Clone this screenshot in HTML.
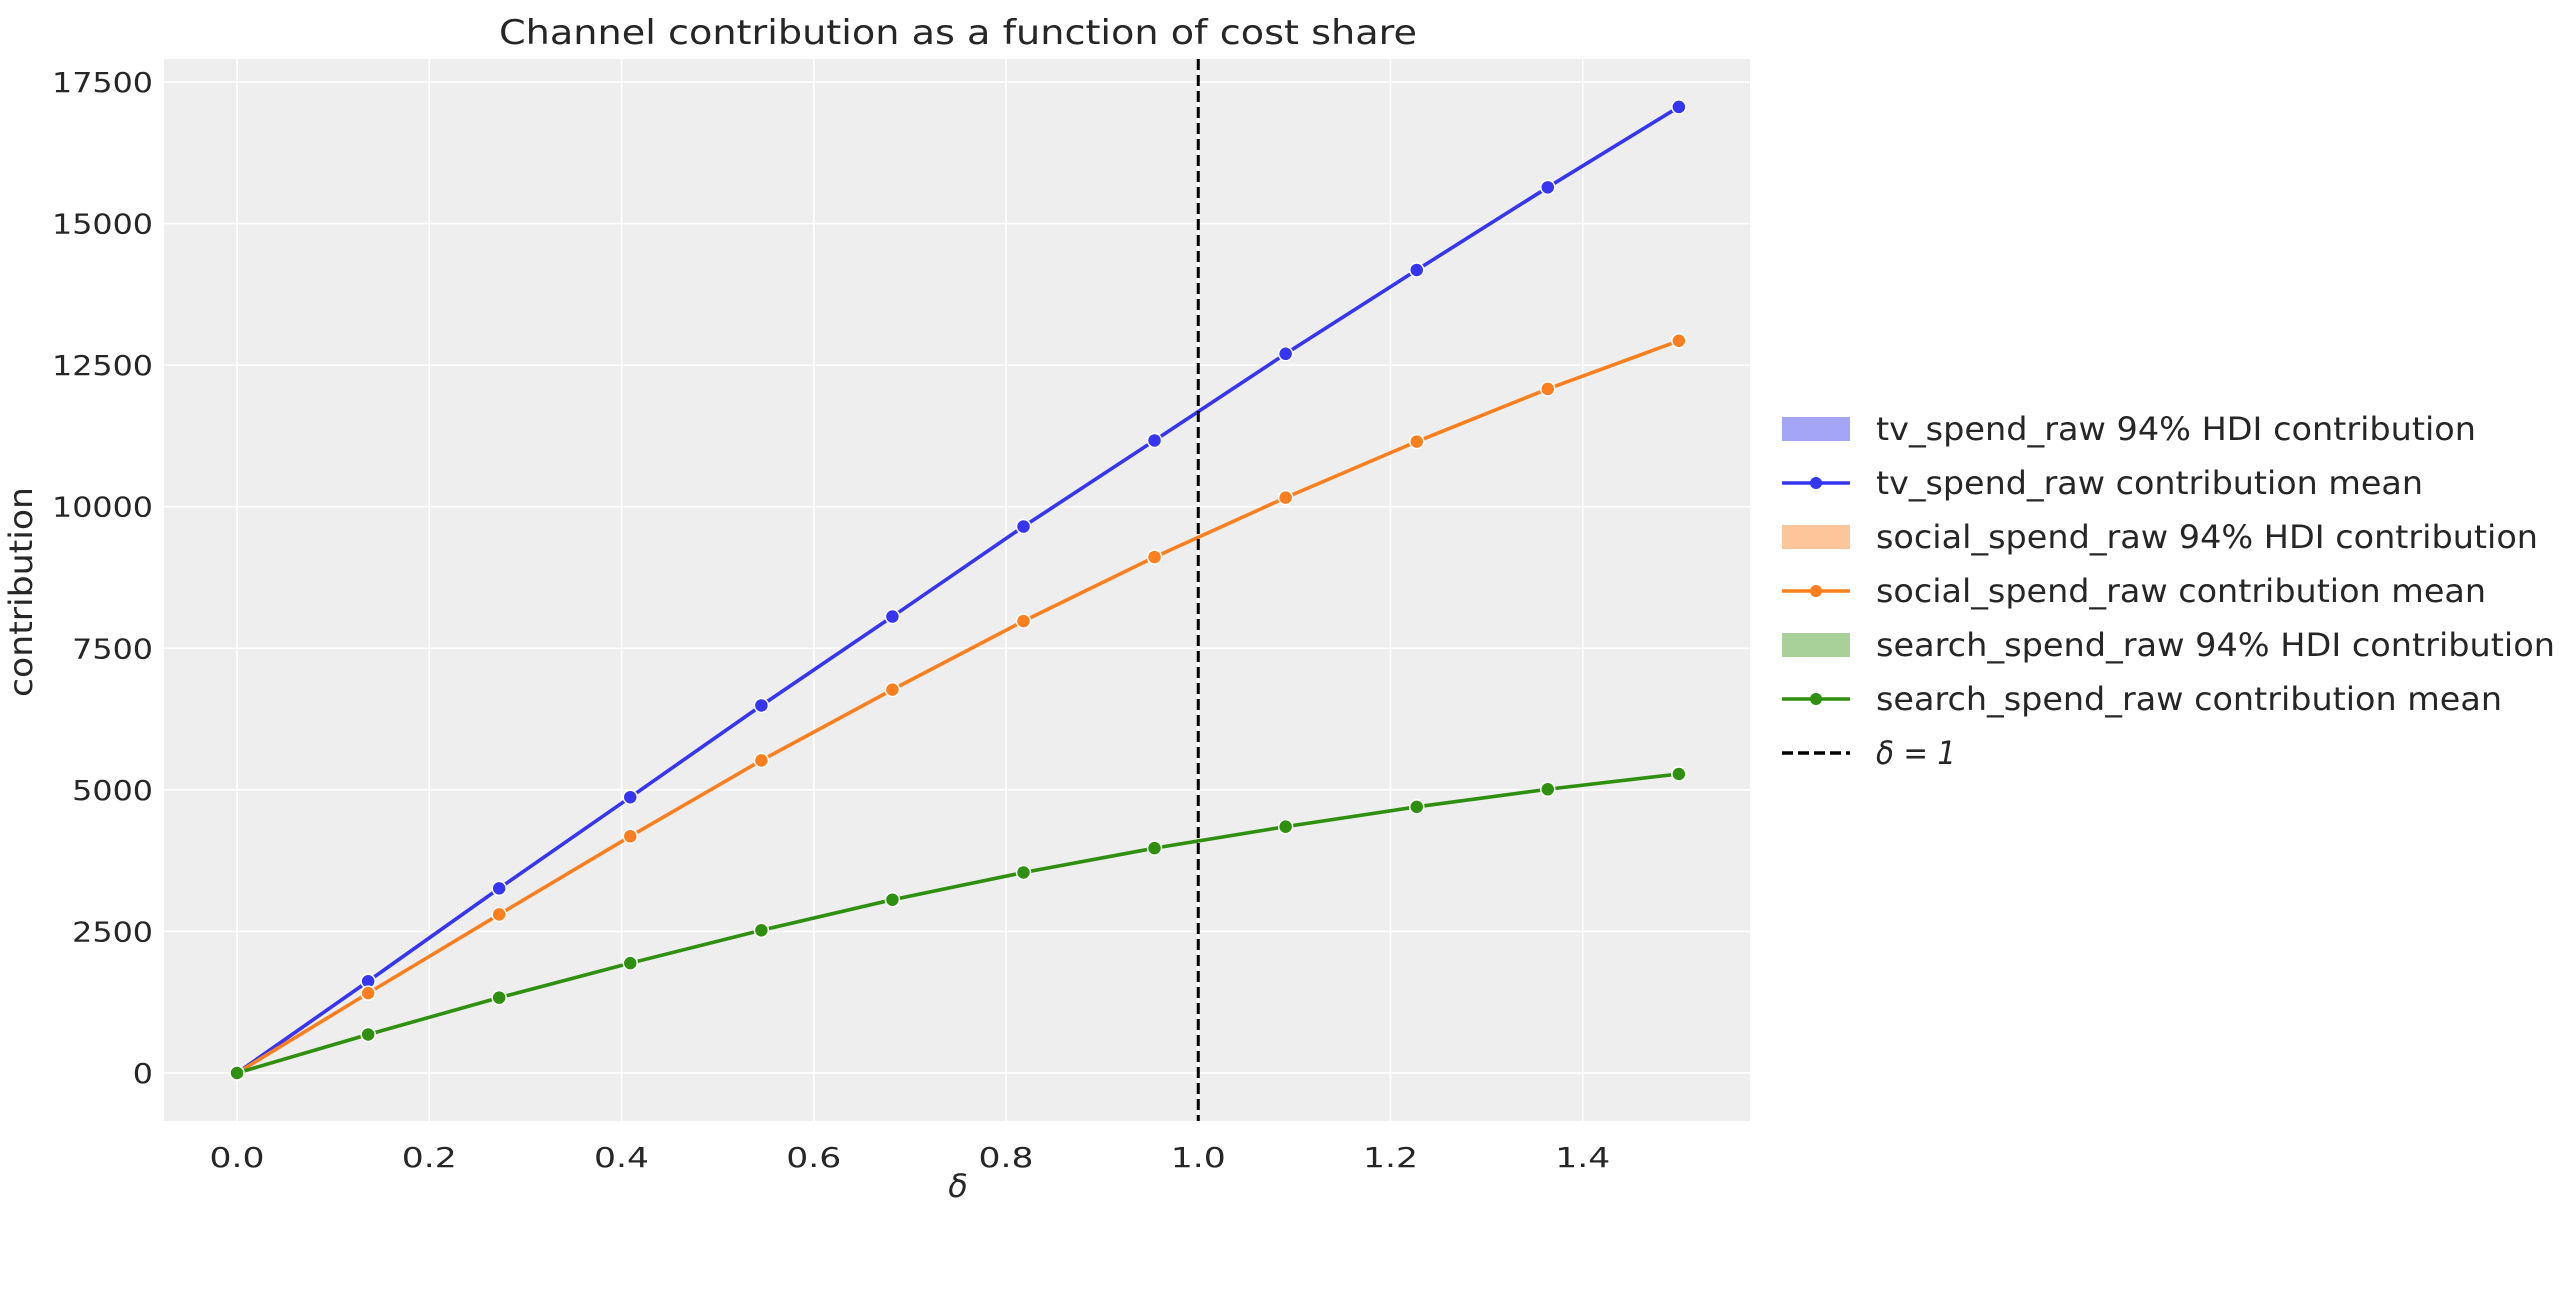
<!DOCTYPE html>
<html><head><meta charset="utf-8"><style>
html,body{margin:0;padding:0;background:#fff;}
svg{display:block;font-family:"DejaVu Sans","Liberation Sans",sans-serif;}
</style></head><body>
<svg id="chart" width="2576" height="1294" viewBox="0 0 2576 1294" xmlns="http://www.w3.org/2000/svg">
<rect x="0" y="0" width="2576" height="1294" fill="#ffffff"/>
<text x="958" y="44" font-size="34" text-anchor="middle" fill="#262626" textLength="918" lengthAdjust="spacingAndGlyphs">Channel contribution as a function of cost share</text>
<rect x="164" y="59" width="1586" height="1062" fill="#eeeeee"/>
<g id="grid"></g>
<g id="marks"></g>
<g id="ticks"></g>
<text transform="translate(32,592) rotate(-90)" font-size="32" text-anchor="middle" fill="#262626" textLength="210" lengthAdjust="spacingAndGlyphs">contribution</text>
<text x="958" y="1197" font-size="32" font-style="italic" text-anchor="middle" fill="#262626">δ</text>
<g id="legend"></g>
</svg>
<script>
const xValues = [0, 0.1364, 0.2727, 0.4091, 0.5455, 0.6818, 0.8182, 0.9545, 1.0909, 1.2273, 1.3636, 1.5];
const tvMean = [0, 1620, 3260, 4870, 6490, 8060, 9650, 11170, 12700, 14180, 15640, 17060];
const socialMean = [0, 1410, 2800, 4180, 5520, 6770, 7980, 9110, 10160, 11150, 12080, 12930];
const searchMean = [0, 680, 1330, 1940, 2520, 3060, 3540, 3970, 4350, 4700, 5010, 5280];
const xTicks = [0, 0.2, 0.4, 0.6, 0.8, 1.0, 1.2, 1.4];
const xTickLabels = ["0.0","0.2","0.4","0.6","0.8","1.0","1.2","1.4"];
const yTicks = [0, 2500, 5000, 7500, 10000, 12500, 15000, 17500];
const yTickLabels = ["0","2500","5000","7500","10000","12500","15000","17500"];
const refLine = 1.0;

const NS = "http://www.w3.org/2000/svg";
const PL = 164, PR = 1750, PT = 59, PB = 1121;
const xMin = -0.076, xMax = 1.574, yMin = -848, yMax = 17906;
function sx(v){ return PL + (v - xMin) / (xMax - xMin) * (PR - PL); }
function sy(v){ return PB - (v - yMin) / (yMax - yMin) * (PB - PT); }
function mk(tag, attrs, parent){
  const e = document.createElementNS(NS, tag);
  for (const k in attrs) e.setAttribute(k, attrs[k]);
  parent.appendChild(e); return e;
}
const grid = document.getElementById('grid');
const ticks = document.getElementById('ticks');
const marks = document.getElementById('marks');
const legend = document.getElementById('legend');

xTicks.forEach((t, i) => {
  const l = mk('line', {x1: sx(t), x2: sx(t), y1: PT, y2: PB, stroke: '#ffffff', 'stroke-width': 1.6}, grid);
  
  
  const tx = mk('text', {x: sx(t), y: PB + 46, 'font-size': 28, 'text-anchor': 'middle', fill: '#262626', textLength: 55, lengthAdjust: 'spacingAndGlyphs'}, ticks);
  
  
  tx.textContent = xTickLabels[i];
});
yTicks.forEach((t, i) => {
  const l = mk('line', {x1: PL, x2: PR, y1: sy(t), y2: sy(t), stroke: '#ffffff', 'stroke-width': 1.6}, grid);
  
  
  const tx = mk('text', {x: PL - 11, y: sy(t) + 10, 'font-size': 28, 'text-anchor': 'end', fill: '#262626', textLength: (yTickLabels[i].length * 20.2).toFixed(1), lengthAdjust: 'spacingAndGlyphs'}, ticks);
  
  
  tx.textContent = yTickLabels[i];
});

const series = [
  {name: 'tv', data: tvMean, color: '#3535f2'},
  {name: 'social', data: socialMean, color: '#fb7f1f'},
  {name: 'search', data: searchMean, color: '#2f8f0f'}
];
series.forEach(s => {
  const pts = xValues.map((x, i) => sx(x) + ',' + sy(s.data[i])).join(' ');
  const pl = mk('polyline', {points: pts, fill: 'none', stroke: s.color, 'stroke-width': 3.6}, marks);
  
  
  xValues.forEach((x, i) => {
    const c = mk('circle', {cx: sx(x), cy: sy(s.data[i]), r: 7, fill: s.color, stroke: '#ffffff', 'stroke-width': 1.5}, marks);
    
    
  });
});
const rl = mk('line', {x1: sx(refLine), x2: sx(refLine), y1: PT, y2: PB, stroke: '#000', 'stroke-width': 3, 'stroke-dasharray': '11,5'}, marks);



const legendItems = [
  {type: 'patch', color: '#a5a5f5', label: 'tv_spend_raw 94% HDI contribution', w: 600},
  {type: 'line', color: '#3535f2', label: 'tv_spend_raw contribution mean', w: 547},
  {type: 'patch', color: '#fdc59a', label: 'social_spend_raw 94% HDI contribution', w: 662},
  {type: 'line', color: '#fb7f1f', label: 'social_spend_raw contribution mean', w: 610},
  {type: 'patch', color: '#a8d19a', label: 'search_spend_raw 94% HDI contribution', w: 679},
  {type: 'line', color: '#2f8f0f', label: 'search_spend_raw contribution mean', w: 626},
  {type: 'dash', color: '#000', label: 'δ = 1', w: 80}
];
legendItems.forEach((it, i) => {
  const y = 429 + i * 54;
  if (it.type === 'patch') {
    const r = mk('rect', {x: 1782, y: y - 12, width: 68, height: 24, fill: it.color}, legend);
    
    
  } else if (it.type === 'line') {
    const l = mk('line', {x1: 1782, x2: 1850, y1: y, y2: y, stroke: it.color, 'stroke-width': 3.5}, legend);
    
    
    const c = mk('circle', {cx: 1816, cy: y, r: 6, fill: it.color}, legend);
    
    
  } else {
    const l = mk('line', {x1: 1782, x2: 1850, y1: y, y2: y, stroke: it.color, 'stroke-width': 3.5, 'stroke-dasharray': '11,5'}, legend);
    
    
  }
  const t = mk('text', {x: 1876, y: y + 11, 'font-size': 32, fill: '#262626', textLength: it.w, lengthAdjust: 'spacingAndGlyphs'}, legend);
  if (it.type === 'dash') t.setAttribute('font-style', 'italic');
  
  
  t.textContent = it.label;
});
</script>
</body></html>
